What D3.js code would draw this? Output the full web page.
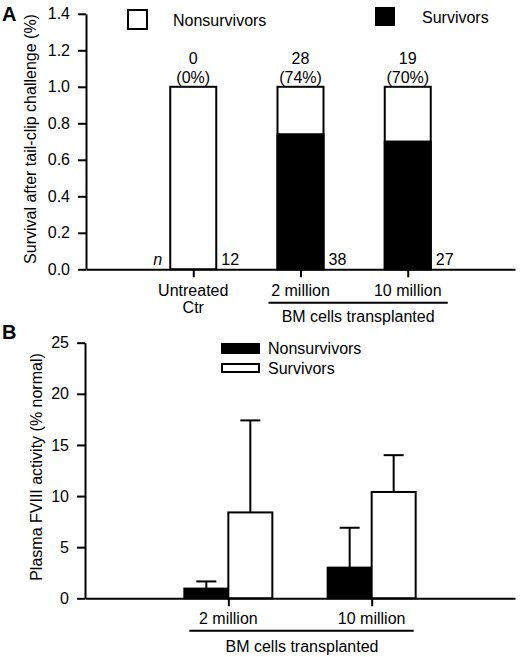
<!DOCTYPE html>
<html lang="en">
  <head>
    <meta charset="utf-8">
    <title>Survival and FVIII activity</title>
    <style>
      body { margin: 0; background: #fff; }
      svg text { font-family: "Liberation Sans", Arial, sans-serif; fill: #000; }
    </style>
  </head>
  <body>
    <svg id="chart"></svg>

    <script src="https://d3js.org/d3.v7.min.js"></script>

    <script type="text/javascript">
      // panel A data
      const catsA = ['Untreated Ctr', '2 million', '10 million'];
      const catLinesA = [['Untreated', 'Ctr'], ['2 million'], ['10 million']];
      const survivalA = [0, 0.74, 0.70];
      const survivorCountA = [0, 28, 19];
      const survivorPctA = ['0%', '74%', '70%'];
      const nA = [12, 38, 27];
      const yTicksA = [0, 0.2, 0.4, 0.6, 0.8, 1.0, 1.2, 1.4];

      // panel B data
      const catsB = ['2 million', '10 million'];
      const nonsurvMeanB = [0.95, 3.0];
      const nonsurvSdB = [0.7, 3.9];
      const survMeanB = [8.4, 10.4];
      const survSdB = [9.0, 3.6];
      const yTicksB = [0, 5, 10, 15, 20, 25];

      const W = 520, H = 657;
      const svg = d3.select('#chart').attr('width', W).attr('height', H);
      svg.append('rect').attr('width', W).attr('height', H).attr('fill', '#fff');

      function styleAxis(g, size) {
        g.selectAll('path, line').attr('stroke', '#000').attr('stroke-width', 2);
        g.selectAll('text').attr('font-family', '"Liberation Sans", Arial, sans-serif')
          .attr('font-size', size).attr('fill', '#000');
      }

      // ---------- panel A ----------
      const yA = d3.scaleLinear().domain([0, 1.4]).range([269.3, 13.8]);
      const xA = d3.scalePoint().domain(catsA).range([86, 515]).padding(1);
      const bwA = 46;

      // white (nonsurvivor) full bars, then black survivors part
      svg.append('g').selectAll('rect').data(catsA).join('rect')
        .attr('x', d => xA(d) - bwA / 2)
        .attr('y', yA(1))
        .attr('width', bwA)
        .attr('height', yA(0) - yA(1))
        .attr('fill', '#fff').attr('stroke', '#000').attr('stroke-width', 2);

      svg.append('g').selectAll('rect').data(catsA).join('rect')
        .attr('x', d => xA(d) - bwA / 2)
        .attr('y', (d, i) => yA(survivalA[i]))
        .attr('width', bwA)
        .attr('height', (d, i) => yA(0) - yA(survivalA[i]))
        .attr('fill', '#000').attr('stroke', '#000').attr('stroke-width', 2);

      // counts on top of bars
      const topLab = svg.append('g').attr('font-size', 16).attr('text-anchor', 'middle');
      catsA.forEach((c, i) => {
        topLab.append('text').attr('x', xA(c)).attr('y', yA(1) - 23).text(survivorCountA[i]);
        topLab.append('text').attr('x', xA(c)).attr('y', yA(1) - 4).text('(' + survivorPctA[i] + ')');
        svg.append('text').attr('font-size', 16)
          .attr('x', xA(c) + bwA / 2 + 5).attr('y', yA(0) - 4).text(nA[i]);
      });
      svg.append('text').attr('font-size', 16).attr('font-style', 'italic')
        .attr('text-anchor', 'end')
        .attr('x', xA(catsA[0]) - bwA / 2 - 8).attr('y', yA(0) - 4).text('n');

      const axYA = svg.append('g').attr('transform', 'translate(86,0)')
        .call(d3.axisLeft(yA).tickValues(yTicksA).tickFormat(d3.format('.1f'))
          .tickSize(8).tickPadding(8).tickSizeOuter(0));
      styleAxis(axYA, 16);

      const axXA = svg.append('g').attr('transform', `translate(0,${yA(0)})`)
        .call(d3.axisBottom(xA).tickSize(8).tickFormat('').tickSizeOuter(0));
      styleAxis(axXA, 16);

      catsA.forEach((c, i) => {
        catLinesA[i].forEach((t, j) => {
          svg.append('text').attr('font-size', 16).attr('text-anchor', 'middle')
            .attr('x', xA(c)).attr('y', 296 + j * 17).text(t);
        });
      });
      svg.append('line')
        .attr('x1', xA(catsA[1]) - 32).attr('x2', xA(catsA[2]) + 40)
        .attr('y1', 302.7).attr('y2', 302.7)
        .attr('stroke', '#000').attr('stroke-width', 2);
      svg.append('text').attr('font-size', 16).attr('text-anchor', 'middle')
        .attr('x', (xA(catsA[1]) + xA(catsA[2])) / 2 + 4).attr('y', 322)
        .text('BM cells transplanted');

      svg.append('text').attr('font-size', 16).attr('text-anchor', 'middle')
        .attr('transform', 'translate(30,139) rotate(-90)').attr('dy', '0.35em')
        .text('Survival after tail-clip challenge (%)');

      // legend A
      svg.append('rect').attr('x', 128).attr('y', 10).attr('width', 19).attr('height', 19)
        .attr('fill', '#fff').attr('stroke', '#000').attr('stroke-width', 2);
      svg.append('text').attr('font-size', 16).attr('x', 173).attr('y', 26).text('Nonsurvivors');
      svg.append('rect').attr('x', 375).attr('y', 7).attr('width', 20).attr('height', 19)
        .attr('fill', '#000');
      svg.append('text').attr('font-size', 16).attr('x', 422).attr('y', 22.5).text('Survivors');

      svg.append('text').attr('font-size', 20).attr('font-weight', 'bold')
        .attr('x', 2).attr('y', 21).text('A');

      // ---------- panel B ----------
      const yB = d3.scaleLinear().domain([0, 25]).range([598.3, 342.7]);
      const xB = d3.scalePoint().domain(catsB).range([85, 515]).padding(1);
      const bwB = 44;
      const capW = 20;

      const groups = [
        { mean: nonsurvMeanB, sd: nonsurvSdB, fill: '#000', off: -bwB },
        { mean: survMeanB, sd: survSdB, fill: '#fff', off: 0 }
      ];

      groups.forEach(g => {
        const gg = svg.append('g');
        // error bars first, bars drawn over them
        catsB.forEach((c, i) => {
          const cx = xB(c) + g.off + bwB / 2;
          gg.append('line').attr('x1', cx).attr('x2', cx)
            .attr('y1', yB(g.mean[i])).attr('y2', yB(g.mean[i] + g.sd[i]))
            .attr('stroke', '#000').attr('stroke-width', 2);
          gg.append('line').attr('x1', cx - capW / 2).attr('x2', cx + capW / 2)
            .attr('y1', yB(g.mean[i] + g.sd[i])).attr('y2', yB(g.mean[i] + g.sd[i]))
            .attr('stroke', '#000').attr('stroke-width', 2);
        });
        gg.selectAll('rect').data(catsB).join('rect')
          .attr('x', d => xB(d) + g.off)
          .attr('y', (d, i) => yB(g.mean[i]))
          .attr('width', bwB)
          .attr('height', (d, i) => yB(0) - yB(g.mean[i]))
          .attr('fill', g.fill).attr('stroke', '#000').attr('stroke-width', 2);
      });

      const axYB = svg.append('g').attr('transform', 'translate(85,0)')
        .call(d3.axisLeft(yB).tickValues(yTicksB).tickSize(8).tickPadding(8).tickSizeOuter(0));
      styleAxis(axYB, 16);

      const axXB = svg.append('g').attr('transform', `translate(0,${yB(0)})`)
        .call(d3.axisBottom(xB).tickSize(8).tickFormat('').tickSizeOuter(0));
      styleAxis(axXB, 16);

      catsB.forEach(c => {
        svg.append('text').attr('font-size', 16).attr('text-anchor', 'middle')
          .attr('x', xB(c)).attr('y', 624).text(c);
      });
      svg.append('line')
        .attr('x1', xB(catsB[0]) - 39).attr('x2', xB(catsB[1]) + 42)
        .attr('y1', 630.7).attr('y2', 630.7)
        .attr('stroke', '#000').attr('stroke-width', 2);
      svg.append('text').attr('font-size', 16).attr('text-anchor', 'middle')
        .attr('x', (xB(catsB[0]) + xB(catsB[1])) / 2 + 2).attr('y', 652)
        .text('BM cells transplanted');

      svg.append('text').attr('font-size', 16).attr('text-anchor', 'middle')
        .attr('transform', 'translate(36,467) rotate(-90)').attr('dy', '0.35em')
        .text('Plasma FVIII activity (% normal)');

      // legend B
      svg.append('rect').attr('x', 222).attr('y', 344).attr('width', 37).attr('height', 9)
        .attr('fill', '#000').attr('stroke', '#000').attr('stroke-width', 2);
      svg.append('text').attr('font-size', 16).attr('x', 268).attr('y', 354).text('Nonsurvivors');
      svg.append('rect').attr('x', 222).attr('y', 364).attr('width', 37).attr('height', 8)
        .attr('fill', '#fff').attr('stroke', '#000').attr('stroke-width', 2);
      svg.append('text').attr('font-size', 16).attr('x', 268).attr('y', 374).text('Survivors');

      svg.append('text').attr('font-size', 20).attr('font-weight', 'bold')
        .attr('x', 2).attr('y', 339).text('B');
    </script>
  </body>
</html>
